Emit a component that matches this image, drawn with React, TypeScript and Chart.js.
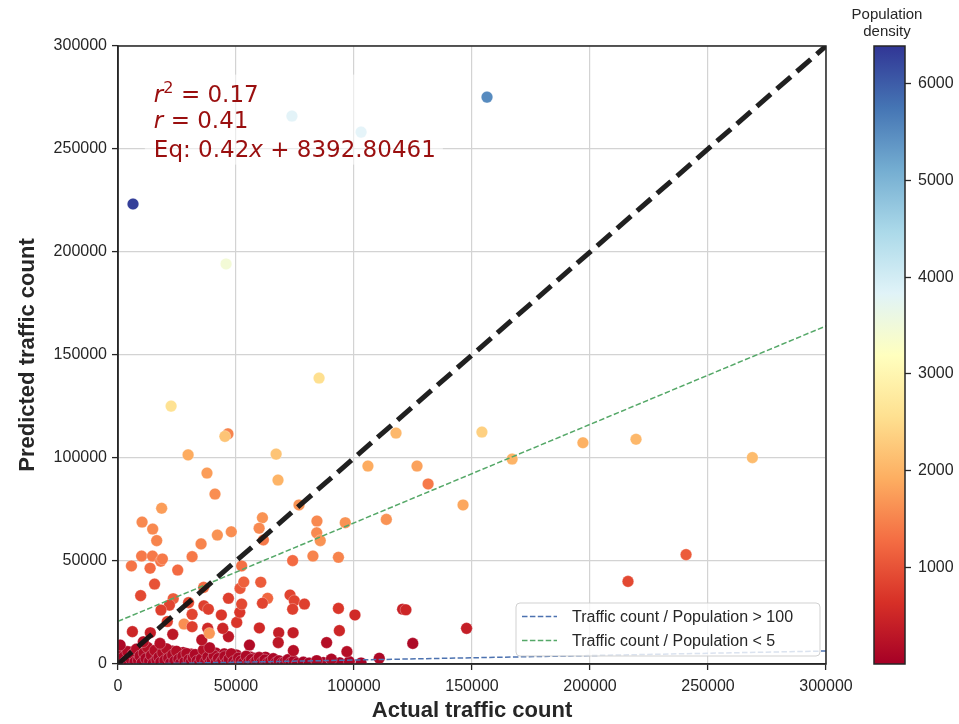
import React, { useEffect, useRef } from 'react';
import { Chart, registerables } from 'chart.js';

Chart.register(...registerables);

// ---------------- data ----------------
const xTickValues = [0, 50000, 100000, 150000, 200000, 250000, 300000];
const yTickValues = [0, 50000, 100000, 150000, 200000, 250000, 300000];
const colorbarTicks = [1000, 2000, 3000, 4000, 5000, 6000];
const colorbarMin = 0;
const colorbarMax = 6390;

// upper / outlying points
const upperActual = [
  6360, 156360, 73700, 103000, 45800, 22500, 85200, 46600, 45300, 29700,
  37700, 41100, 67000, 67800, 117800, 105900, 126700, 131400, 154200, 167000,
  146200, 197000, 219500, 268800, 240700, 216100, 147700, 124900, 120600, 122000,
];
const upperPredicted = [
  223300, 275200, 266000, 258200, 194200, 125200, 138800, 111700, 110500, 101500,
  92700, 82500, 101900, 89300, 112100, 96100, 96100, 87400, 112600, 99500,
  77200, 107400, 109100, 100200, 53100, 40100, 17300, 10000, 26600, 26300,
];
const upperDensity = [
  6300, 5500, 4200, 4150, 3450, 2600, 2550, 1500, 2200, 1900,
  1750, 1600, 2200, 2000, 2050, 1900, 1800, 1400, 2350, 2000,
  1850, 1950, 2050, 2100, 1100, 900, 400, 120, 450, 500,
];

// middle cloud
const midActual = [
  18500, 10200, 14700, 16400, 35200, 42100, 48000, 61200, 59800, 61600,
  76700, 84300, 84200, 85700, 82600, 93400, 96300, 113700, 5700, 10000,
  14600, 18100, 18800, 13600, 25300, 31400, 15500, 9600, 36300, 23400,
  21800, 18200, 29900, 31400, 28000, 31400, 20900, 36400, 38300, 46800,
  43800, 50300, 51600, 52400, 51700, 53300, 52400, 60500, 63400, 61200,
  74000, 72900, 74700, 74000, 79000, 93400, 100400, 59900, 74200, 68100,
  67900, 74300, 93800, 88400, 97000, 84200, 90400, 110700, 55700, 46800,
  44400, 38000, 38800, 35500, 23200, 6100, 13700, 17800, 10700, 900,
  38700,
];
const midPredicted = [
  75600, 68900, 65500, 59900, 58300, 62600, 64200, 71000, 65900, 60200,
  77200, 69400, 63700, 59900, 52400, 51800, 68600, 70200, 47600, 52400,
  52400, 49900, 51000, 46500, 45600, 52100, 38800, 33200, 37200, 31700,
  28600, 26200, 29800, 24100, 19400, 18100, 20600, 28200, 26600, 31900,
  23800, 20200, 25100, 29100, 36700, 39800, 47600, 39700, 31900, 29500,
  50200, 33500, 30700, 26600, 29100, 27000, 23800, 17500, 15200, 15200,
  10400, 6500, 16200, 10400, 6000, 1600, 2300, 2800, 9200, 13300,
  17300, 17300, 7900, 11700, 14400, 15700, 15200, 10000, 10800, 9200,
  14900,
];
const midDensity = [
  1750, 1550, 1550, 1500, 1500, 1650, 1600, 1650, 1550, 1400,
  1650, 1550, 1550, 1650, 1500, 1500, 1650, 1650, 1350, 1400,
  1400, 1350, 1400, 1250, 1250, 1400, 1000, 900, 1250, 1100,
  850, 800, 900, 850, 1600, 800, 800, 800, 800, 800,
  700, 700, 700, 900, 1050, 1150, 1300, 1100, 1200, 850,
  1250, 850, 850, 800, 800, 700, 550, 550, 400, 400,
  300, 200, 500, 200, 200, 100, 100, 100, 150, 300,
  500, 550, 150, 250, 300, 500, 400, 200, 200, 100,
  1700,
];

// dense band near zero
const lowActual = [
  1500, 2500, 3200, 4100, 4800, 5600, 6300, 7100, 7800, 8600,
  9300, 10200, 11000, 11800, 12500, 13300, 14100, 14900, 15600, 16400,
  17300, 18100, 18900, 19800, 20600, 21400, 22300, 23100, 24000, 24800,
  25700, 26500, 27400, 28300, 29100, 30000, 30900, 31800, 32700, 33500,
  34400, 35300, 36200, 37100, 38000, 38900, 39800, 40700, 41600, 42500,
  43400, 44300, 45200, 46100, 47000, 48000, 49000, 50000, 51000, 52100,
  53200, 54300, 55400, 56500, 57600, 58700, 59800, 61000, 62200, 63400,
  64600, 65800, 67000, 68200, 69500, 70800, 72000, 73300, 74500, 76000,
  78500, 81000, 84200, 87000, 90400, 94000, 98000, 103000,
];
const lowPredicted = [
  800, 3500, 1200, 6000, 300, 2200, 4800, 900, 7200, 1800,
  3900, 600, 5300, 2600, 8100, 1400, 4200, 300, 6600, 2000,
  3300, 900, 5500, 1700, 7400, 2800, 500, 4400, 1300, 6200,
  2300, 400, 3700, 1000, 5100, 2000, 700, 3000, 4600, 1500,
  300, 2500, 6900, 1100, 3400, 500, 2100, 4000, 900, 2700,
  400, 1800, 3600, 700, 2400, 5000, 1200, 300, 2900, 1500,
  600, 3800, 1000, 2200, 400, 1700, 3200, 800, 2000, 500,
  1300, 2600, 700, 1600, 400, 1100, 2100, 600, 1400, 300,
  900, 500, 1500, 700, 2300, 600, 1200, 500,
];
const lowDensity = [
  50, 80, 30, 120, 20, 60, 100, 40, 150, 70,
  90, 30, 130, 60, 200, 50, 110, 20, 160, 70,
  80, 40, 140, 60, 180, 90, 30, 120, 50, 170,
  70, 20, 100, 40, 130, 60, 30, 90, 110, 50,
  20, 80, 190, 40, 90, 30, 70, 110, 40, 80,
  20, 60, 100, 30, 70, 140, 50, 20, 90, 60,
  30, 110, 40, 70, 20, 60, 100, 30, 70, 30,
  50, 90, 30, 60, 20, 40, 80, 30, 60, 20,
  40, 30, 60, 40, 80, 30, 50, 30,
];

// second layer of the dense band
const bandActual = [
  1000, 2000, 3000, 4500, 5500, 6800, 8000, 9000, 10500, 11500,
  12800, 13800, 15000, 16000, 17000, 18500, 19500, 20500, 21800, 23000,
  24200, 25300, 26400, 27600, 28700, 29800, 31000, 32200, 33300, 34500,
  35600, 36800, 38000, 39200, 40400, 41500, 42700, 43900, 45000, 46400,
  47600, 48800, 50200, 51600, 53000, 54600, 56200, 58000, 60000, 62500,
];
const bandPredicted = [
  4200, 6800, 2600, 1500, 5800, 3000, 1000, 5900, 3200, 7000,
  2400, 5800, 3600, 4700, 6200, 3900, 2600, 5200, 3500, 6300,
  2800, 4900, 1800, 5600, 3000, 1200, 4800, 2700, 1600, 3800,
  5400, 2900, 6200, 1600, 2800, 5300, 1600, 3300, 4900, 1600,
  3700, 2900, 4400, 600, 2400, 1400, 3400, 2800, 1100, 3300,
];
const bandDensity = [
  60, 150, 40, 30, 110, 60, 20, 120, 70, 160,
  50, 130, 80, 100, 140, 90, 50, 110, 70, 150,
  60, 100, 40, 120, 60, 30, 110, 60, 30, 80,
  120, 60, 150, 40, 60, 120, 40, 70, 110, 40,
  80, 60, 100, 20, 50, 30, 70, 60, 30, 70,
];

// reference / fit lines (endpoints)
const lineX = [0, 300000];
const identityY = [0, 300000];
const highRatioFitY = [-250, 6300];
const lowRatioFitY = [20700, 164100];

const legendHigh = 'Traffic count / Population > 100';
const legendLow = 'Traffic count / Population < 5';
const statR2 = '0.17';
const statR = '0.41';
const statSlope = '0.42';
const statIntercept = '8392.80461';

// ---------------- styling helpers ----------------
const SANS = "'Liberation Sans', Arial, sans-serif";
const DEJAVU = "'DejaVu Sans', sans-serif";
const INK = '#262626';

const rdylbu = [
  [165, 0, 38], [215, 48, 39], [244, 109, 67], [253, 174, 97], [254, 224, 144],
  [255, 255, 191], [224, 243, 248], [171, 217, 233], [116, 173, 209], [69, 117, 180], [49, 54, 149],
];

function cmap(t: number): string {
  const c = Math.max(0, Math.min(1, t)) * 10;
  const i = Math.min(9, Math.floor(c));
  const f = c - i;
  const a = rdylbu[i];
  const b = rdylbu[i + 1];
  const r = Math.round(a[0] + (b[0] - a[0]) * f);
  const g = Math.round(a[1] + (b[1] - a[1]) * f);
  const bl = Math.round(a[2] + (b[2] - a[2]) * f);
  return `rgb(${r},${g},${bl})`;
}
const densityColor = (d: number) => cmap((d - colorbarMin) / (colorbarMax - colorbarMin));

const allActual = [...bandActual, ...lowActual, ...midActual, ...upperActual];
const allPredicted = [...bandPredicted, ...lowPredicted, ...midPredicted, ...upperPredicted];
const allDensity = [...bandDensity, ...lowDensity, ...midDensity, ...upperDensity];

type Seg = { t: string; italic?: boolean; sup?: boolean };

function drawSegs(ctx: CanvasRenderingContext2D, x: number, y: number, segs: Seg[], size: number) {
  let cx = x;
  for (const s of segs) {
    const fs = s.sup ? size * 0.7 : size;
    ctx.font = `${s.italic ? 'italic ' : ''}${fs}px ${DEJAVU}`;
    ctx.fillText(s.t, cx, s.sup ? y - size * 0.38 : y);
    cx += ctx.measureText(s.t).width;
  }
}

const annotationPlugin = {
  id: 'statsBox',
  afterDatasetsDraw(chart: any) {
    const ctx = chart.ctx as CanvasRenderingContext2D;
    const xs = chart.scales.x;
    const ys = chart.scales.y;
    const x0 = xs.getPixelForValue(15200);
    const y0 = ys.getPixelForValue(273000);
    ctx.save();
    ctx.fillStyle = 'rgba(255,255,255,0.55)';
    ctx.fillRect(x0 - 9, y0 - 27, 298, 90);
    ctx.fillStyle = '#9a0f0f';
    ctx.textBaseline = 'alphabetic';
    ctx.textAlign = 'left';
    const size = 23;
    drawSegs(ctx, x0, y0, [{ t: 'r', italic: true }, { t: '2', sup: true }, { t: ' = ' + statR2 }], size);
    drawSegs(ctx, x0, y0 + 26.5, [{ t: 'r', italic: true }, { t: ' = ' + statR }], size);
    drawSegs(ctx, x0, y0 + 55, [{ t: 'Eq: ' + statSlope }, { t: 'x', italic: true }, { t: ' + ' + statIntercept }], size);
    ctx.restore();
  },
};

const boxLegendPlugin = {
  id: 'boxLegend',
  afterDatasetsDraw(chart: any) {
    const ctx = chart.ctx as CanvasRenderingContext2D;
    const ca = chart.chartArea;
    const items = chart.data.datasets.filter((d: any) => d.inLegend);
    const w = 304;
    const h = 53;
    const x = ca.right - 6 - w;
    const y = ca.bottom - 8 - h;
    ctx.save();
    ctx.beginPath();
    const r = 4;
    ctx.moveTo(x + r, y);
    ctx.arcTo(x + w, y, x + w, y + h, r);
    ctx.arcTo(x + w, y + h, x, y + h, r);
    ctx.arcTo(x, y + h, x, y, r);
    ctx.arcTo(x, y, x + w, y, r);
    ctx.closePath();
    ctx.fillStyle = 'rgba(255,255,255,0.8)';
    ctx.fill();
    ctx.strokeStyle = 'rgba(204,204,204,0.9)';
    ctx.lineWidth = 1;
    ctx.stroke();
    items.forEach((d: any, i: number) => {
      const cy = y + 13.5 + i * 24;
      ctx.beginPath();
      ctx.setLineDash(d.borderDash);
      ctx.strokeStyle = d.borderColor;
      ctx.lineWidth = d.borderWidth;
      ctx.moveTo(x + 6, cy);
      ctx.lineTo(x + 41, cy);
      ctx.stroke();
      ctx.setLineDash([]);
      ctx.fillStyle = INK;
      ctx.font = `16px ${SANS}`;
      ctx.textBaseline = 'middle';
      ctx.fillText(d.label, x + 56, cy + 1);
    });
    ctx.restore();
  },
};

const frameMainPlugin = {
  id: 'frameMain',
  afterDraw(chart: any) {
    const ctx = chart.ctx as CanvasRenderingContext2D;
    const ca = chart.chartArea;
    ctx.save();
    ctx.strokeStyle = INK;
    ctx.lineWidth = 1.5;
    ctx.strokeRect(ca.left, ca.top, ca.right - ca.left, ca.bottom - ca.top);
    ctx.restore();
  },
};

const colorbarPlugin = {
  id: 'colorbarFill',
  beforeDatasetsDraw(chart: any) {
    const ctx = chart.ctx as CanvasRenderingContext2D;
    const ca = chart.chartArea;
    const ys = chart.scales.y;
    const yb = ys.getPixelForValue(colorbarMin);
    const yt = ys.getPixelForValue(colorbarMax);
    const g = ctx.createLinearGradient(0, yb, 0, yt);
    rdylbu.forEach((c, i) => g.addColorStop(i / 10, `rgb(${c[0]},${c[1]},${c[2]})`));
    ctx.save();
    ctx.fillStyle = g;
    ctx.fillRect(ca.left, yt, ca.right - ca.left, yb - yt);
    ctx.strokeStyle = INK;
    ctx.lineWidth = 1.5;
    ctx.strokeRect(ca.left, yt, ca.right - ca.left, yb - yt);
    ctx.restore();
  },
};

export default function App() {
  const mainRef = useRef<HTMLCanvasElement>(null);
  const cbRef = useRef<HTMLCanvasElement>(null);

  useEffect(() => {
    const points = allActual.map((x, i) => ({ x, y: allPredicted[i] }));
    const mkLine = (ys: number[]) => lineX.map((x, i) => ({ x, y: ys[i] }));

    const main = new Chart(mainRef.current as HTMLCanvasElement, {
      type: 'scatter',
      data: {
        datasets: [
          {
            type: 'line',
            label: 'identity',
            data: mkLine(identityY),
            borderColor: 'rgba(20,20,20,0.95)',
            borderWidth: 5,
            borderDash: [18.5, 8],
            pointRadius: 0,
            fill: false,
            order: 0,
          } as any,
          {
            type: 'line',
            label: legendHigh,
            inLegend: true,
            data: mkLine(highRatioFitY),
            borderColor: '#4c72b0',
            borderWidth: 1.5,
            borderDash: [5.5, 2.4],
            pointRadius: 0,
            fill: false,
            order: 1,
          } as any,
          {
            type: 'line',
            label: legendLow,
            inLegend: true,
            data: mkLine(lowRatioFitY),
            borderColor: '#55a868',
            borderWidth: 1.5,
            borderDash: [5.5, 2.4],
            pointRadius: 0,
            fill: false,
            order: 2,
          } as any,
          {
            label: 'stations',
            data: points,
            backgroundColor: allDensity.map(densityColor),
            borderColor: 'rgba(255,255,255,0.55)',
            borderWidth: 0.5,
            pointRadius: 5.8,
            order: 3,
          },
        ],
      },
      options: {
        responsive: false,
        animation: false,
        events: [],
        layout: { padding: { top: 46, right: 133, left: 0, bottom: 0 } },
        plugins: { legend: { display: false }, tooltip: { enabled: false } },
        scales: {
          x: {
            type: 'linear',
            min: 0,
            max: 300000,
            afterBuildTicks: (s: any) => { s.ticks = xTickValues.map((v) => ({ value: v })); },
            afterFit: (s: any) => { s.height = 60; },
            ticks: {
              callback: (v: any) => String(v),
              autoSkip: false,
              maxRotation: 0,
              color: INK,
              font: { family: SANS, size: 16 },
              padding: 7,
            },
            grid: { color: '#d3d3d3', lineWidth: 1.2, tickColor: INK, tickLength: 6, tickWidth: 1.3 },
            border: { display: true, color: INK, width: 1.5 },
            title: {
              display: true,
              text: 'Actual traffic count',
              color: INK,
              font: { family: SANS, size: 22, weight: 'bold', lineHeight: 1.2 },
              padding: { top: 0, bottom: 0 },
            },
          },
          y: {
            type: 'linear',
            min: 0,
            max: 300000,
            afterBuildTicks: (s: any) => { s.ticks = yTickValues.map((v) => ({ value: v })); },
            afterFit: (s: any) => { s.width = 118; },
            ticks: {
              callback: (v: any) => String(v),
              autoSkip: false,
              color: INK,
              font: { family: SANS, size: 16 },
              padding: 5,
            },
            grid: { color: '#d3d3d3', lineWidth: 1.2, tickColor: INK, tickLength: 6, tickWidth: 1.3 },
            border: { display: true, color: INK, width: 1.5 },
            title: {
              display: true,
              text: 'Predicted traffic count',
              color: INK,
              font: { family: SANS, size: 22, weight: 'bold', lineHeight: 1.2 },
              padding: { top: 15, bottom: 0 },
            },
          },
        },
      } as any,
      plugins: [annotationPlugin, boxLegendPlugin, frameMainPlugin],
    });

    const cb = new Chart(cbRef.current as HTMLCanvasElement, {
      type: 'scatter',
      data: { datasets: [] },
      options: {
        responsive: false,
        animation: false,
        events: [],
        layout: { padding: { top: 0, right: 0, left: 815, bottom: 60 } },
        plugins: {
          legend: { display: false },
          tooltip: { enabled: false },
          title: {
            display: true,
            text: ['Population', 'density'],
            color: INK,
            font: { family: SANS, size: 15, weight: 'normal', lineHeight: 1.15 },
            padding: { top: 6, bottom: 5.5 },
          },
        },
        scales: {
          x: { type: 'linear', display: false, min: 0, max: 1 },
          spacer: {
            type: 'linear',
            axis: 'y',
            position: 'left',
            display: true,
            min: 0,
            max: 1,
            ticks: { display: false },
            grid: { display: false },
            border: { display: false },
            afterFit: (s: any) => { s.width = 59; },
          },
          y: {
            type: 'linear',
            position: 'right',
            min: colorbarMin,
            max: colorbarMax,
            afterBuildTicks: (s: any) => { s.ticks = colorbarTicks.map((v) => ({ value: v })); },
            afterFit: (s: any) => { s.width = 54; },
            ticks: {
              callback: (v: any) => String(v),
              color: INK,
              font: { family: SANS, size: 16 },
              padding: 7,
            },
            grid: { drawOnChartArea: false, drawTicks: true, tickLength: 6, tickColor: INK, tickWidth: 1.3 },
            border: { display: false },
          },
        },
      } as any,
      plugins: [colorbarPlugin],
    });

    return () => {
      main.destroy();
      cb.destroy();
    };
  }, []);

  return (
    <div style={{ position: 'absolute', left: 0, top: 0, width: 959, height: 724, background: '#ffffff', overflow: 'hidden' }}>
      <canvas ref={mainRef} width={959} height={724} style={{ position: 'absolute', left: 0, top: 0, width: 959, height: 724 }} />
      <canvas ref={cbRef} width={959} height={724} style={{ position: 'absolute', left: 0, top: 0, width: 959, height: 724 }} />
    </div>
  );
}
